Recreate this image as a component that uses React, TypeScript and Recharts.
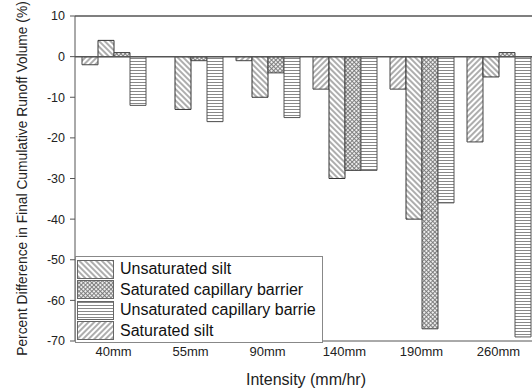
import React from 'react';
import { BarChart, Bar, XAxis, YAxis, ReferenceLine, Legend } from 'recharts';

const intensities = ['40mm', '55mm', '90mm', '140mm', '190mm', '260mm'];
const saturatedSilt = [-2, 0, -1, -8, -8, -21];
const unsaturatedSilt = [4, -13, -10, -30, -40, -5];
const saturatedBarrier = [1, -1, -4, -28, -67, 1];
const unsaturatedBarrier = [-12, -16, -15, -28, -36, -69];
const majorTicks = [-70, -60, -50, -40, -30, -20, -10, 0, 10];
const minorTicks = [-65, -55, -45, -35, -25, -15, -5, 5];

const data = intensities.map((name, i) => ({
  name,
  satSilt: saturatedSilt[i],
  unsatSilt: unsaturatedSilt[i],
  satBarrier: saturatedBarrier[i],
  unsatBarrier: unsaturatedBarrier[i],
}));

// legend order differs from the bar order
const legendItems = [
  { label: 'Unsaturated silt', fill: 'url(#hatchBack)' },
  { label: 'Saturated capillary barrier', fill: 'url(#hatchCross)' },
  { label: 'Unsaturated capillary barrie', fill: 'url(#hatchHoriz)' },
  { label: 'Saturated silt', fill: 'url(#hatchFwd)' },
];

const FONT = '"Liberation Sans", Arial, sans-serif';

const Patterns = () => (
  <svg width={0} height={0} style={{ position: 'absolute' }}>
    <defs>
      <pattern id="hatchFwd" patternUnits="userSpaceOnUse" width="4" height="4" patternTransform="rotate(45)">
        <rect width="4" height="4" fill="#fff" />
        <line x1="1" y1="0" x2="1" y2="4" stroke="#6a6a6a" strokeWidth="1.1" />
      </pattern>
      <pattern id="hatchBack" patternUnits="userSpaceOnUse" width="4" height="4" patternTransform="rotate(-45)">
        <rect width="4" height="4" fill="#fff" />
        <line x1="1" y1="0" x2="1" y2="4" stroke="#6a6a6a" strokeWidth="1.1" />
      </pattern>
      <pattern id="hatchCross" patternUnits="userSpaceOnUse" width="3" height="3" patternTransform="rotate(45)">
        <rect width="3" height="3" fill="#eee" />
        <line x1="0.5" y1="0" x2="0.5" y2="3" stroke="#777" strokeWidth="0.9" />
        <line x1="0" y1="0.5" x2="3" y2="0.5" stroke="#777" strokeWidth="0.9" />
      </pattern>
      <pattern id="hatchHoriz" patternUnits="userSpaceOnUse" width="4" height="3">
        <rect width="4" height="3" fill="#fff" />
        <line x1="0" y1="1.5" x2="4" y2="1.5" stroke="#888" strokeWidth="1" />
      </pattern>
    </defs>
  </svg>
);

const LegendBox = () => (
  <div
    style={{
      width: 246,
      height: 83,
      border: '1px solid #888',
      background: '#fff',
      fontFamily: FONT,
      paddingTop: 2,
      boxSizing: 'content-box',
    }}
  >
    {legendItems.map((item) => (
      <div key={item.label} style={{ display: 'flex', alignItems: 'center', height: 20.5, whiteSpace: 'nowrap' }}>
        <svg width={38} height={19} style={{ marginLeft: 1, flex: 'none' }}>
          <rect x={0.5} y={0.5} width={36} height={18} fill={item.fill} stroke="#666" />
        </svg>
        <span style={{ fontSize: 16, color: '#111', marginLeft: 5 }}>{item.label}</span>
      </div>
    ))}
  </div>
);

const App = () => (
  <div style={{ position: 'absolute', left: 0, top: 0, width: 532, height: 391, overflow: 'hidden', background: '#fff' }}>
    <Patterns />
    <BarChart
      width={537}
      height={391}
      data={data}
      margin={{ top: 16, right: 0, bottom: 0, left: 0 }}
      barCategoryGap={7}
      barGap={0}
      style={{ fontFamily: FONT }}
    >
      <XAxis
        dataKey="name"
        height={50}
        axisLine={{ stroke: '#555' }}
        tickLine={false}
        tickSize={4}
        tickMargin={2}
        tick={{ fill: '#222', fontSize: 13 }}
        label={{ value: 'Intensity (mm/hr)', position: 'insideBottom', offset: 6, fill: '#222', fontSize: 16 }}
      />
      <YAxis
        width={75}
        domain={[-70, 10]}
        ticks={majorTicks}
        allowDataOverflow
        interval={0}
        axisLine={{ stroke: '#555' }}
        tickLine={{ stroke: '#555' }}
        tickSize={5}
        tickMargin={5}
        tick={{ fill: '#222', fontSize: 12.5 }}
        label={{
          value: 'Percent Difference in Final Cumulative Runoff Volume (%)',
          angle: -90,
          position: 'insideLeft',
          offset: 22,
          style: { textAnchor: 'middle' },
          fill: '#222',
          fontSize: 13.8,
        }}
      />
      <YAxis
        yAxisId="minor"
        width={0}
        domain={[-70, 10]}
        ticks={minorTicks}
        allowDataOverflow
        interval={0}
        axisLine={false}
        tickLine={{ stroke: '#555' }}
        tickSize={3}
        tick={false}
      />
      <ReferenceLine y={10} stroke="#555" strokeWidth={1.5} />
      <ReferenceLine y={0} stroke="#555" strokeWidth={1.5} />
      <Bar dataKey="satSilt" name="Saturated silt" fill="url(#hatchFwd)" stroke="#444" isAnimationActive={false} />
      <Bar dataKey="unsatSilt" name="Unsaturated silt" fill="url(#hatchBack)" stroke="#333" isAnimationActive={false} />
      <Bar dataKey="satBarrier" name="Saturated capillary barrier" fill="url(#hatchCross)" stroke="#444" isAnimationActive={false} />
      <Bar dataKey="unsatBarrier" name="Unsaturated capillary barrie" fill="url(#hatchHoriz)" stroke="#555" isAnimationActive={false} />
      <Legend
        layout="vertical"
        align="center"
        verticalAlign="middle"
        content={() => <LegendBox />}
        wrapperStyle={{ position: 'absolute', left: 75, top: 256, width: 'auto' }}
      />
    </BarChart>
  </div>
);

export default App;
